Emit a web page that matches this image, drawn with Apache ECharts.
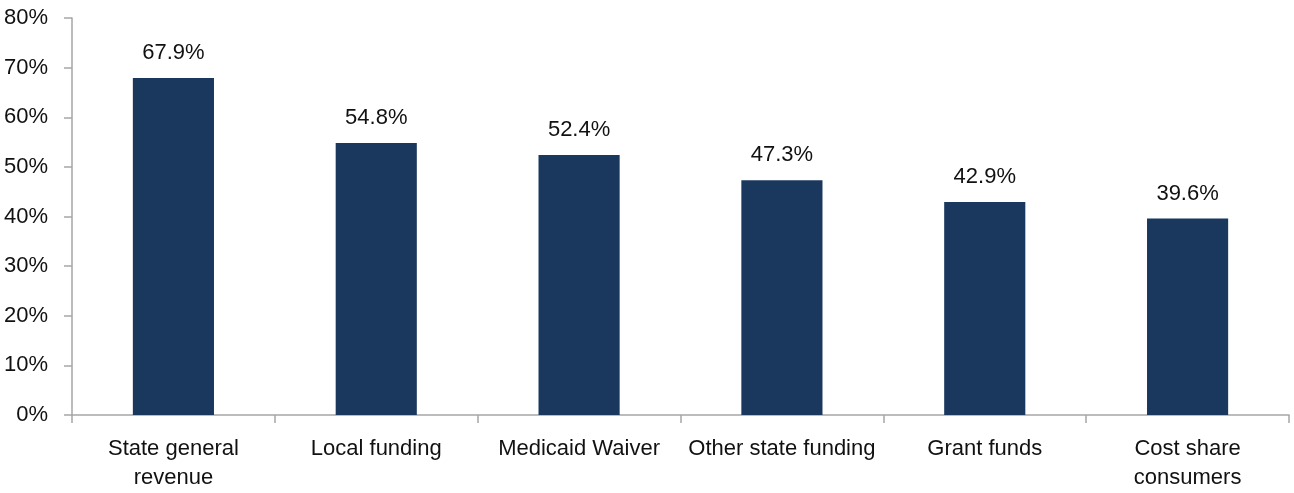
<!DOCTYPE html>
<html>
<head>
<meta charset="utf-8">
<script src="https://cdn.jsdelivr.net/npm/echarts@6/dist/echarts.min.js"></script>
<style>
  html, body { margin: 0; padding: 0; background: #fff; }
  #chart { width: 1294px; height: 493px; }
</style>
</head>
<body>
<div id="chart"></div>
<script>
// Funding sources and their shares (percent)
const categories = ['State general\nrevenue', 'Local funding', 'Medicaid Waiver', 'Other state funding', 'Grant funds', 'Cost share\nconsumers'];
const shares = [67.9, 54.8, 52.4, 47.3, 42.9, 39.6];

const FONT = '"Liberation Sans", Arial, sans-serif';
const AXIS_GRAY = '#a6a6a6';
const TEXT = '#111';

const chart = echarts.init(document.getElementById('chart'), null, { renderer: 'canvas' });
chart.setOption({
  animation: false,
  grid: { left: 72, right: 5, top: 18, bottom: 78, containLabel: false, outerBoundsMode: 'none' },
  xAxis: {
    type: 'category',
    data: categories,
    axisLine: { lineStyle: { color: AXIS_GRAY, width: 1.5 } },
    axisTick: { show: true, length: 8, lineStyle: { color: AXIS_GRAY, width: 1.5 } },
    axisLabel: { color: TEXT, fontFamily: FONT, fontSize: 22, lineHeight: 29, margin: 19, interval: 0 }
  },
  yAxis: {
    type: 'value',
    min: 0, max: 80, interval: 10,
    axisLine: { show: true, lineStyle: { color: AXIS_GRAY, width: 1.5 } },
    axisTick: { show: true, length: 8, lineStyle: { color: AXIS_GRAY, width: 1.5 } },
    splitLine: { show: false },
    axisLabel: { color: TEXT, fontFamily: FONT, fontSize: 22, margin: 24, formatter: '{value}%' }
  },
  series: [{
    type: 'bar',
    data: shares,
    barWidth: '40%',
    itemStyle: { color: '#1a375e' },
    label: {
      show: true, position: 'top', distance: 14,
      color: TEXT, fontFamily: FONT, fontSize: 22,
      formatter: p => p.value.toFixed(1) + '%'
    }
  }]
});
</script>
</body>
</html>
